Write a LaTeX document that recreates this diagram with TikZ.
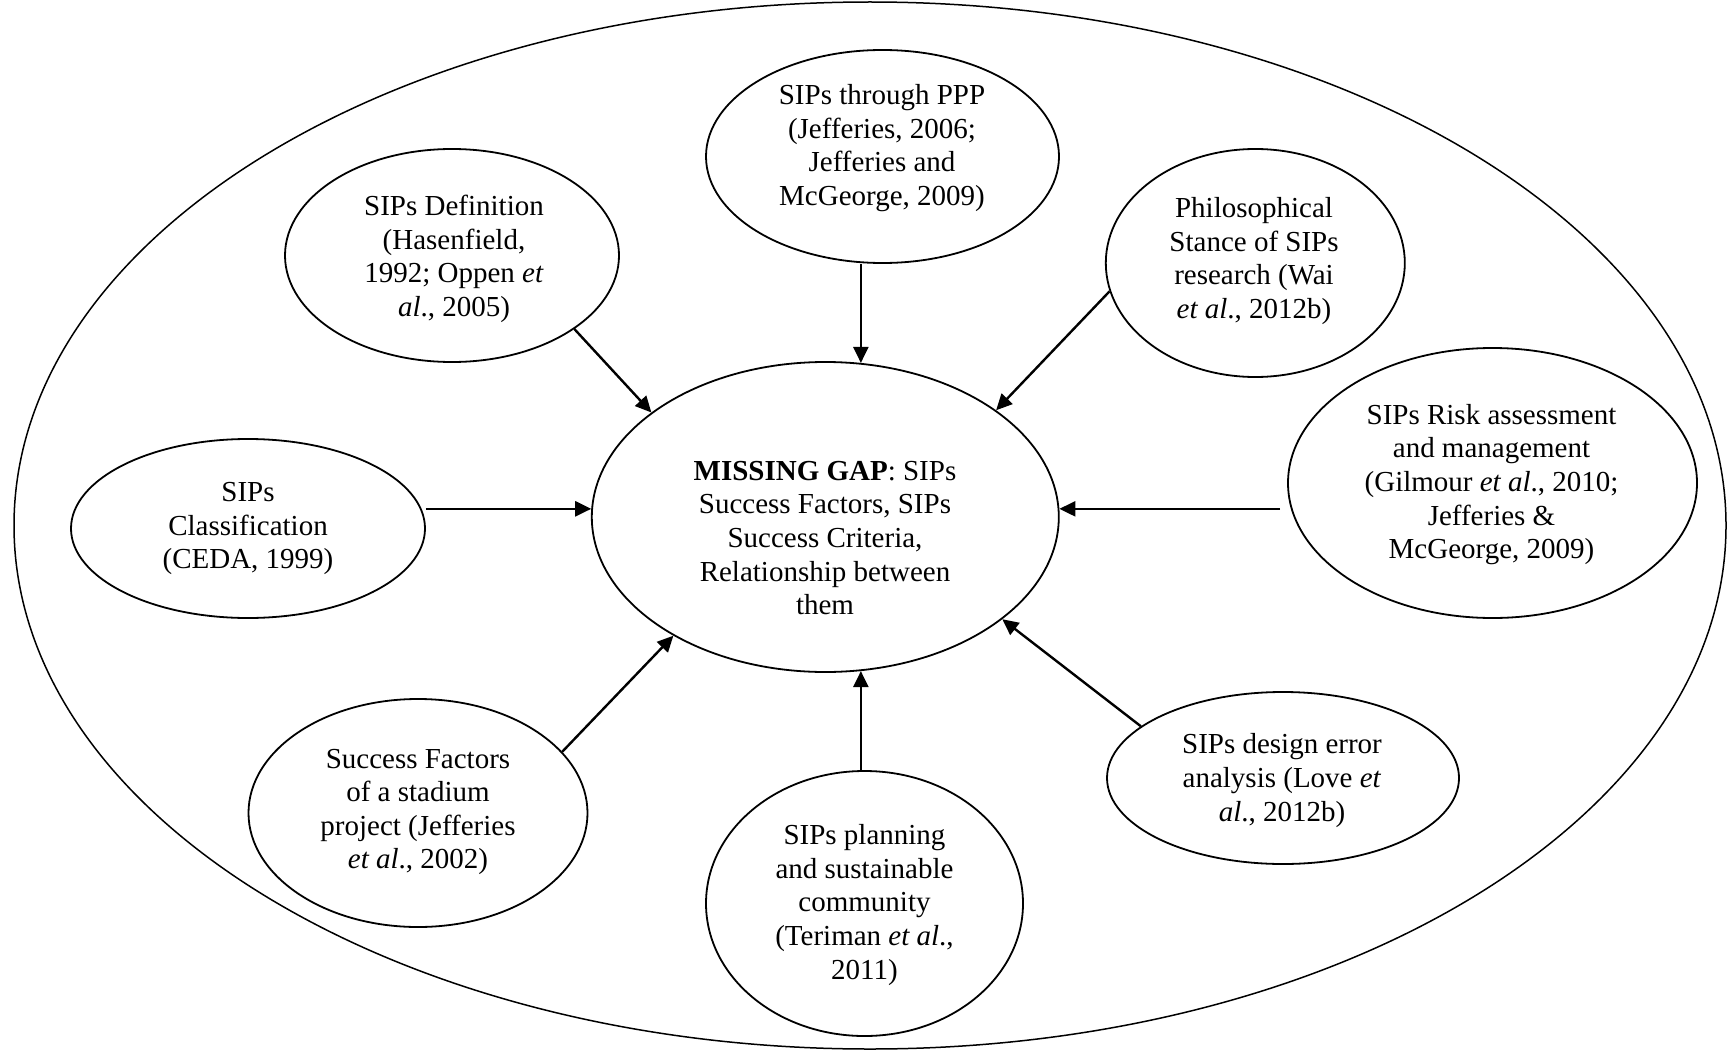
\documentclass[tikz,border=0pt]{standalone}
\usepackage{fontspec}
\setmainfont{Liberation Serif}
\usetikzlibrary{shapes.geometric,arrows.meta}
\begin{document}
\begin{tikzpicture}[x=1pt,y=-1pt,
  bub/.style={draw,ellipse,inner sep=0pt,line width=1.8pt},
  txt/.style={align=center,inner sep=0pt,font=\fontsize{29}{33.6}\selectfont},
  arr/.style={line width=2.4pt,-{Triangle[length=16pt,width=15pt]}}]
\useasboundingbox (0,0) rectangle (1728,1051);
\node[draw,ellipse,line width=1.5pt,inner sep=0pt,minimum width=1712pt,minimum height=1047pt] (outer) at (870,525.5) {};
% bubbles
\node[bub,minimum width=467pt,minimum height=310pt] (main) at (825.3,517) {};
\node[bub,minimum width=334pt,minimum height=213pt] (def) at (452,255.5) {};
\node[bub,minimum width=353pt,minimum height=213pt] (ppp) at (882.5,156.5) {};
\node[bub,minimum width=299pt,minimum height=228pt] (phil) at (1255.3,263) {};
\node[bub,minimum width=409pt,minimum height=270pt] (risk) at (1492.5,483) {};
\node[bub,minimum width=354pt,minimum height=179pt] (class) at (248,528.5) {};
\node[bub,minimum width=339pt,minimum height=228pt] (succ) at (418,813) {};
\node[bub,minimum width=317pt,minimum height=265pt] (plan) at (864.5,903.5) {};
\node[bub,minimum width=352pt,minimum height=172pt] (des) at (1283,778) {};
% texts
\node[txt] (main-t) at (825,538) {\textbf{MISSING GAP}: SIPs\\Success Factors, SIPs\\Success Criteria,\\Relationship between\\them};
\node[txt] (def-t) at (454,259) {SIPs Definition\\(Hasenfield,\\1992; Oppen \textit{et}\\\textit{al}., 2005)};
\node[txt] (ppp-t) at (882,148) {SIPs through PPP\\(Jefferies, 2006;\\Jefferies and\\McGeorge, 2009)};
\node[txt] (phil-t) at (1254,261) {Philosophical\\Stance of SIPs\\research (Wai\\\textit{et al}., 2012b)};
\node[txt] (risk-t) at (1491.5,484.5) {SIPs Risk assessment\\and management\\(Gilmour \textit{et al}., 2010;\\Jefferies \&\\McGeorge, 2009)};
\node[txt] (class-t) at (248,528.5) {SIPs\\Classification\\(CEDA, 1999)};
\node[txt] (succ-t) at (418,812) {Success Factors\\of a stadium\\project (Jefferies\\\textit{et al}., 2002)};
\node[txt] (plan-t) at (864.5,905) {SIPs planning\\and sustainable\\community\\(Teriman \textit{et al}.,\\2011)};
\node[txt] (des-t) at (1282,780.5) {SIPs design error\\analysis (Love \textit{et}\\\textit{al}., 2012b)};
% arrows
\draw[arr] (def.-31) -- (main.149);
\draw[arr] (ppp.south -| main.77) -- (main.77);
\draw[arr] (phil.191) -- (main.32);
\draw[arr] (main.178 -| class.east) -- (main.178);
\draw[arr,shorten <=7pt] (main.2 -| risk.west) -- (main.2);
\draw[arr] (succ.23) -- (main.218);
\draw[arr] (plan.north -| main.-77) -- (main.-77);
\draw[arr] (des.160) -- (main.-30);
\end{tikzpicture}
\end{document}
